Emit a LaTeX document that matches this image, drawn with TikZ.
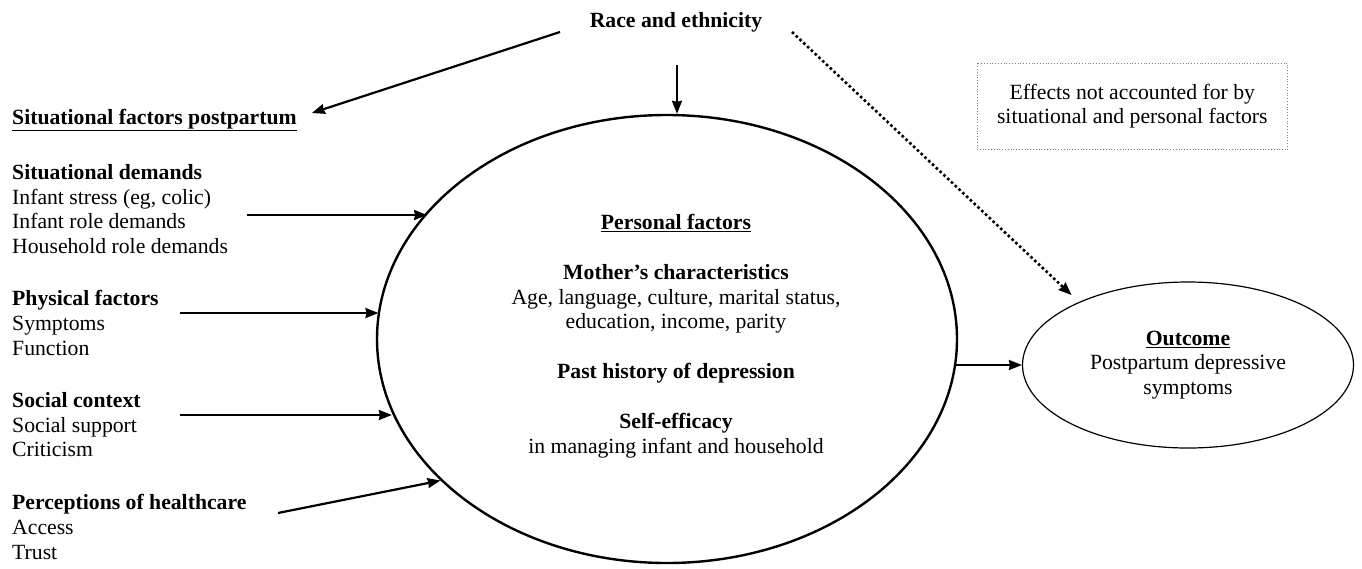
\documentclass[tikz,border=0pt]{standalone}
\usepackage{fontspec}
\setmainfont{Liberation Serif}
\usetikzlibrary{arrows.meta,shapes.geometric}

\begin{document}
\begin{tikzpicture}[x=1pt,y=-1pt,
    txt/.style={font=\fontsize{21.7}{24.8}\selectfont,inner sep=0pt,align=left},
    conn/.style={line width=2.2pt,-{Stealth[length=13pt,width=10pt,inset=1pt]}},
    dotconn/.style={conn,line width=2.6pt,dash pattern=on 2.6pt off 2.6pt,shorten >=10pt},
]
\useasboundingbox (0,0) rectangle (1362,568);

    % top and the note
    \node[txt] (race) at (676,22) {\textbf{Race and ethnicity}};
    \node[txt,align=center,draw=gray,dotted,line width=0.8pt,inner xsep=20pt,inner ysep=21pt,anchor=south east] (note) at (1288,150) {Effects not accounted for by\\ situational and personal factors};

    % situational factors
    \node[txt,anchor=west] (sitfac) at (12,120) {\underline{\textbf{Situational factors postpartum}}};
    \node[txt,anchor=north west] (demands) at (12,164) {\textbf{Situational demands}\\ Infant stress (eg, colic)\\ Infant role demands\\ Household role demands};
    \node[txt,anchor=north west] (physical) at (12,290) {\textbf{Physical factors}\\ Symptoms\\ Function};
    \node[txt,anchor=north west] (social) at (12,392) {\textbf{Social context}\\ Social support\\ Criticism};
    \node[txt,anchor=north west] (percept) at (12,494) {\textbf{Perceptions of healthcare}\\ Access\\ Trust};

    % personal factors and outcome
    \node[draw,ellipse,line width=2.4pt,minimum width=580pt,minimum height=448pt,inner sep=0pt] (pers) at (667,339) {};
    \node[txt,align=center,anchor=north] (perstxt) at (676,214) {\underline{\textbf{Personal factors}}\\[25pt] \textbf{Mother's characteristics}\\ Age, language, culture, marital status,\\ education, income, parity\\[25pt] \textbf{Past history of depression}\\[25pt] \textbf{Self-efficacy}\\ in managing infant and household};
    \node[txt,align=center,draw,ellipse,line width=1.2pt,minimum width=331pt,minimum height=166pt] (out) at (1188,365) {\underline{\textbf{Outcome}}\\ Postpartum depressive\\ symptoms};

    \coordinate (r1) at (560,32);
    \coordinate (r2) at (677,65);
    \coordinate (r3) at (792,32);
    \coordinate (c1) at (247,215);
    \coordinate (c2) at (180,313);
    \coordinate (c3) at (180,415);
    \coordinate (c4) at (278,513);

    \draw[conn] (r1) -- ([xshift=15pt,yshift=7pt]sitfac.east);
    \draw[conn] (r2) -- (r2 |- pers.north);
    \draw[dotconn] (r3) -- (out.150);
    \draw[conn] (c1) -- (c1 -| pers.152.8);
    \draw[conn] (c2) -- (c2 -| pers.174.8);
    \draw[conn] (c3) -- (c3 -| pers.195.6);
    \draw[conn] (c4) -- (pers.212.4);
    \draw[conn] (pers.354.8 |- out.west) -- (out.west);
\end{tikzpicture}
\end{document}
